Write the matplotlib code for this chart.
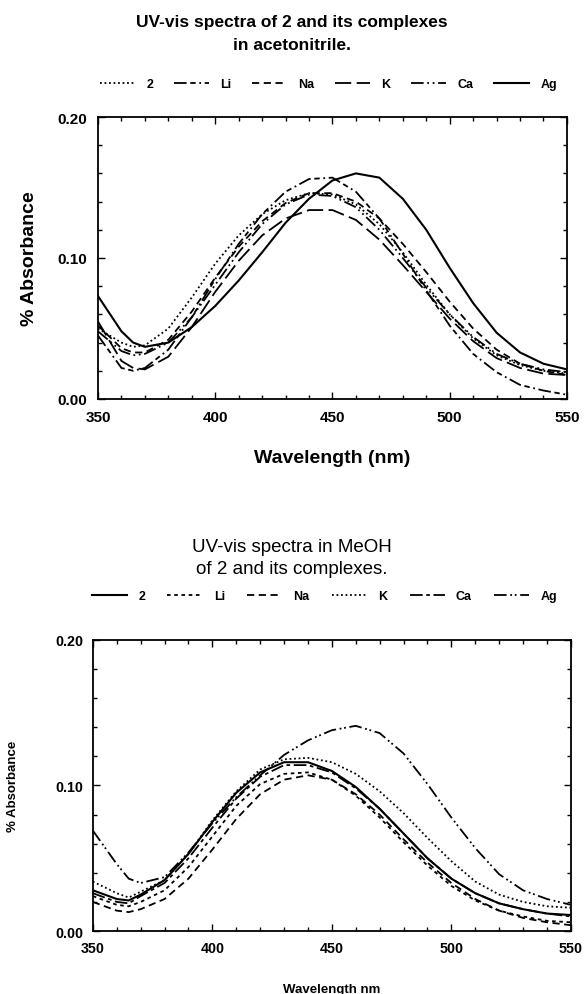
import matplotlib.pyplot as plt
from matplotlib.ticker import MultipleLocator, FormatStrFormatter
import numpy as np

plt.rcParams['font.family'] = ['Liberation Sans', 'DejaVu Sans']

# wavelengths (nm) shared by both panels
wl = [350, 360, 365, 370, 380, 390, 400, 410, 420, 430, 440, 450,
      460, 470, 480, 490, 500, 510, 520, 530, 540, 550]

# acetonitrile panel
acn_names = ['2', 'Li', 'Na', 'K', 'Ca', 'Ag']
acn_2 = [0.050, 0.040, 0.037, 0.038, 0.050, 0.072, 0.096, 0.116, 0.131, 0.141, 0.146,
         0.145, 0.138, 0.124, 0.104, 0.081, 0.060, 0.043, 0.031, 0.024, 0.020, 0.018]
acn_li = [0.045, 0.022, 0.020, 0.022, 0.035, 0.058, 0.085, 0.110, 0.131, 0.147, 0.156,
          0.157, 0.147, 0.128, 0.103, 0.077, 0.052, 0.032, 0.019, 0.010, 0.006, 0.003]
acn_na = [0.052, 0.036, 0.033, 0.033, 0.042, 0.062, 0.086, 0.108, 0.126, 0.139, 0.146,
          0.146, 0.140, 0.128, 0.110, 0.090, 0.069, 0.050, 0.035, 0.025, 0.020, 0.017]
acn_k = [0.055, 0.027, 0.022, 0.021, 0.030, 0.051, 0.076, 0.098, 0.116, 0.128, 0.134,
         0.134, 0.127, 0.113, 0.095, 0.076, 0.057, 0.041, 0.029, 0.022, 0.018, 0.017]
acn_ca = [0.048, 0.034, 0.031, 0.032, 0.040, 0.058, 0.081, 0.104, 0.124, 0.138, 0.145,
          0.144, 0.136, 0.120, 0.100, 0.079, 0.060, 0.044, 0.032, 0.025, 0.021, 0.019]
acn_ag = [0.073, 0.048, 0.040, 0.037, 0.040, 0.051, 0.066, 0.084, 0.104, 0.125, 0.142,
          0.155, 0.160, 0.157, 0.142, 0.120, 0.093, 0.068, 0.047, 0.033, 0.025, 0.021]

# methanol panel
meoh_names = ['2', 'Li', 'Na', 'K', 'Ca', 'Ag']
meoh_2 = [0.028, 0.022, 0.021, 0.025, 0.035, 0.053, 0.075, 0.095, 0.109, 0.116, 0.116,
          0.110, 0.099, 0.084, 0.067, 0.050, 0.036, 0.026, 0.019, 0.015, 0.012, 0.011]
meoh_li = [0.024, 0.018, 0.017, 0.020, 0.028, 0.044, 0.065, 0.086, 0.101, 0.108, 0.109,
           0.104, 0.093, 0.078, 0.061, 0.045, 0.031, 0.021, 0.014, 0.010, 0.007, 0.006]
meoh_na = [0.020, 0.014, 0.013, 0.015, 0.022, 0.036, 0.056, 0.077, 0.094, 0.104, 0.107,
           0.104, 0.094, 0.080, 0.063, 0.047, 0.033, 0.022, 0.014, 0.009, 0.006, 0.004]
meoh_k = [0.034, 0.026, 0.023, 0.027, 0.035, 0.053, 0.076, 0.096, 0.111, 0.118, 0.119,
          0.116, 0.108, 0.096, 0.081, 0.064, 0.048, 0.034, 0.025, 0.020, 0.017, 0.016]
meoh_ca = [0.026, 0.020, 0.019, 0.024, 0.033, 0.050, 0.071, 0.091, 0.106, 0.114, 0.114,
           0.109, 0.098, 0.084, 0.067, 0.050, 0.036, 0.026, 0.019, 0.015, 0.012, 0.010]
meoh_ag = [0.069, 0.046, 0.036, 0.033, 0.037, 0.054, 0.074, 0.092, 0.107, 0.121, 0.131,
           0.138, 0.141, 0.136, 0.122, 0.101, 0.078, 0.057, 0.039, 0.028, 0.022, 0.018]

acn_styles = [(0, (1, 1.5)), (0, (7, 2, 3, 2, 1, 2)), (0, (4, 2.5)),
              (0, (9, 3)), (0, (7, 2, 1, 2, 1, 2)), '-']
meoh_styles = ['-', (0, (2, 2)), (0, (4, 2.5)), (0, (1, 1.5)),
               (0, (7, 2, 2, 2)), (0, (7, 2, 1, 1.5, 1, 2))]


def style_axes(ax, tick_size, pad):
    ax.set_xlim(350, 550)
    ax.set_ylim(0, 0.20)
    ax.xaxis.set_major_locator(MultipleLocator(50))
    ax.xaxis.set_minor_locator(MultipleLocator(10))
    ax.yaxis.set_major_locator(MultipleLocator(0.10))
    ax.yaxis.set_minor_locator(MultipleLocator(0.02))
    ax.yaxis.set_major_formatter(FormatStrFormatter('%.2f'))
    ax.tick_params(which='both', direction='in', top=True, right=True,
                   labelsize=tick_size, width=1.0)
    ax.tick_params(which='major', length=5, pad=pad)
    ax.tick_params(which='minor', length=3)
    for lab in ax.get_xticklabels() + ax.get_yticklabels():
        lab.set_fontweight('bold')
    for sp in ax.spines.values():
        sp.set_linewidth(1.3)


fig = plt.figure(figsize=(5.84, 9.95), dpi=100)

# ---- top panel: acetonitrile
ax1 = fig.add_axes([0.1678, 0.598, 0.803, 0.2834])
acn = [acn_2, acn_li, acn_na, acn_k, acn_ca, acn_ag]
handles = []
for name, ys, ls in zip(acn_names, acn, acn_styles):
    lw = 1.5 if ls == '-' else 1.3
    h, = ax1.plot(wl, ys, color='black', linestyle=ls, linewidth=lw, label=name)
    handles.append(h)
style_axes(ax1, 11, 8)
ax1.set_xlabel('Wavelength (nm)', fontsize=14, fontweight='bold', labelpad=18)
ax1.set_ylabel('% Absorbance', fontsize=14, fontweight='bold', labelpad=14)

fig.text(0.5, 1 - 23 / 995, 'UV-vis spectra of 2 and its complexes',
         ha='center', va='center', fontsize=12.5, fontweight='bold')
fig.text(0.5, 1 - 45 / 995, 'in acetonitrile.',
         ha='center', va='center', fontsize=12.5, fontweight='bold')
fig.legend(handles=handles, loc='center', mode='expand',
           bbox_to_anchor=(100 / 584, 1 - 95 / 995, 457 / 584, 20 / 995),
           ncol=6, frameon=False, handlelength=2.8, handletextpad=0.9,
           borderpad=0, borderaxespad=0, prop={'weight': 'bold', 'size': 9})

# ---- bottom panel: methanol
ax2 = fig.add_axes([0.159, 0.0633, 0.8185, 0.2925])
meoh = [meoh_2, meoh_li, meoh_na, meoh_k, meoh_ca, meoh_ag]
handles = []
for name, ys, ls in zip(meoh_names, meoh, meoh_styles):
    lw = 1.5 if ls == '-' else 1.3
    h, = ax2.plot(wl, ys, color='black', linestyle=ls, linewidth=lw, label=name)
    handles.append(h)
style_axes(ax2, 10.3, 7)
ax2.set_xlabel('Wavelength nm', fontsize=9.5, fontweight='bold', labelpad=20)
ax2.set_ylabel('% Absorbance', fontsize=9.5, fontweight='bold', labelpad=26)

fig.text(0.5, 1 - 548 / 995, 'UV-vis spectra in MeOH',
         ha='center', va='center', fontsize=13.5)
fig.text(0.5, 1 - 570 / 995, 'of 2 and its complexes.',
         ha='center', va='center', fontsize=13.5)
fig.legend(handles=handles, loc='center', mode='expand',
           bbox_to_anchor=(92 / 584, 1 - 607 / 995, 465 / 584, 20 / 995),
           ncol=6, frameon=False, handlelength=2.8, handletextpad=0.9,
           borderpad=0, borderaxespad=0, prop={'weight': 'bold', 'size': 9})

fig.savefig('out.png', dpi=100)
